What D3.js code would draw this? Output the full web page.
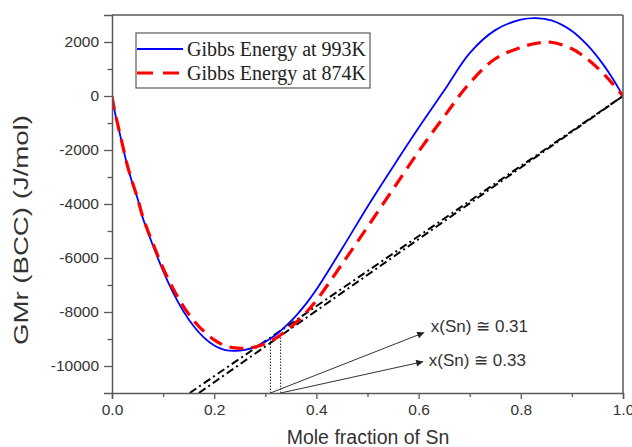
<!DOCTYPE html>
<html><head><meta charset="utf-8">
<script src="https://cdn.jsdelivr.net/npm/d3@7"></script>
<style>html,body{margin:0;padding:0;background:#fff;}svg{display:block;}</style>
</head><body>
<svg id="chart" width="632" height="447"></svg>
<script>
// ---- data ----
const xGrid = [0, 0.005, 0.01, 0.02, 0.03, 0.04, 0.05, 0.06, 0.07, 0.08, 0.10, 0.12, 0.14, 0.16, 0.18, 0.20, 0.22, 0.24, 0.26, 0.28, 0.30, 0.32, 0.34, 0.36, 0.38, 0.40, 0.45, 0.50, 0.55, 0.60, 0.65, 0.70, 0.75, 0.80, 0.83, 0.86, 0.90, 0.93, 0.96, 0.98, 1.0];
const gibbs993 = [0, -540, -960, -1780, -2580, -3230, -3800, -4500, -5030, -5530, -6480, -7300, -7980, -8530, -8950, -9240, -9400, -9440, -9405, -9290, -9105, -8850, -8520, -8140, -7690, -7170, -5660, -4100, -2620, -1180, 200, 1590, 2440, 2830, 2885, 2800, 2410, 1890, 1200, 640, 0];
const gibbs874 = [0, -540, -950, -1760, -2570, -3200, -3780, -4460, -4980, -5460, -6380, -7150, -7800, -8320, -8720, -9030, -9240, -9330, -9343, -9295, -9167, -8973, -8710, -8390, -8010, -7570, -6230, -4850, -3450, -2060, -760, 480, 1380, 1800, 1950, 1990, 1750, 1370, 860, 450, 0];
const tangent993 = [[0.152, -11000], [1.0, 0]];
const tangent874 = [[0.170, -11000], [1.0, 0]];
const tangentX = [0.31, 0.33];
const tangentLabels = ["x(Sn) \u2245 0.31", "x(Sn) \u2245 0.33"];
const arrowTips = [[0.611, -8760], [0.609, -9840]];
const labelPos = [[0.624, -8540], [0.620, -9800]];
const xTicks = [0, 0.2, 0.4, 0.6, 0.8, 1.0];
const xMinorTicks = [0.1, 0.3, 0.5, 0.7, 0.9];
const yTicks = [-10000, -8000, -6000, -4000, -2000, 0, 2000];
const yMinorTicks = [-9000, -7000, -5000, -3000, -1000, 1000];
const seriesNames = ["Gibbs Energy at 993K", "Gibbs Energy at 874K"];
const xTitle = "Mole fraction of Sn";
const yTitle = "GMr (BCC) (J/mol)";

// ---- layout ----
const L = 112, R = 623, T = 15, B = 393;
const svg = d3.select("#chart");
const x = d3.scaleLinear().domain([0, 1]).range([L, R]);
const y = d3.scaleLinear().domain([-11000, 3000]).range([B, T]);
const axisCol = "#5a5a5a", textCol = "#333";

svg.append("defs").append("clipPath").attr("id", "clip")
  .append("rect").attr("x", L).attr("y", T).attr("width", R - L).attr("height", B - T);
const marker = svg.select("defs").append("marker").attr("id", "arr")
  .attr("viewBox", "0 0 10 10").attr("refX", 10).attr("refY", 5)
  .attr("markerWidth", 10).attr("markerHeight", 7).attr("markerUnits", "userSpaceOnUse")
  .attr("orient", "auto");
marker.append("path").attr("d", "M0,0 L10,5 L0,10 Z").attr("fill", "#222");

const plot = svg.append("g").attr("clip-path", "url(#clip)");
const line = d3.line().x(d => x(d[0])).y(d => y(d[1]));

// tangent lines
[tangent993, tangent874].forEach(t => {
  plot.append("path").attr("d", line(t)).attr("fill", "none")
    .attr("stroke", "#000").attr("stroke-width", 2)
    .attr("stroke-dasharray", "8,3.5,2,3.5");
});

// dotted vertical lines from axis to tangent points
const tangentY = tangentX.map((tx, i) => {
  const t = i === 0 ? tangent993 : tangent874;
  const m = (t[1][1] - t[0][1]) / (t[1][0] - t[0][0]);
  return t[1][1] + m * (tx - t[1][0]);
});
tangentX.forEach((tx, i) => {
  plot.append("line").attr("x1", x(tx)).attr("x2", x(tx))
    .attr("y1", y(-11000)).attr("y2", y(tangentY[i]))
    .attr("stroke", "#222").attr("stroke-width", 1).attr("stroke-dasharray", "1.5,1.5");
});

// curves
const curveLine = d3.line().x(d => x(d[0])).y(d => y(d[1])).curve(d3.curveCatmullRom.alpha(0.5));
const d993 = xGrid.map((v, i) => [v, gibbs993[i]]);
const d874 = xGrid.map((v, i) => [v, gibbs874[i]]);
plot.append("path").attr("d", curveLine(d993)).attr("fill", "none")
  .attr("stroke", "#0000ff").attr("stroke-width", 1.8);
plot.append("path").attr("d", curveLine(d874)).attr("fill", "none")
  .attr("stroke", "#ff0000").attr("stroke-width", 3.2).attr("stroke-dasharray", "14,8");

// arrows
tangentX.forEach((tx, i) => {
  svg.append("line").attr("x1", x(tx)).attr("y1", y(-11000))
    .attr("x2", x(arrowTips[i][0])).attr("y2", y(arrowTips[i][1]))
    .attr("stroke", "#333").attr("stroke-width", 1).attr("marker-end", "url(#arr)");
  svg.append("text").attr("x", x(labelPos[i][0])).attr("y", y(labelPos[i][1]))
    .attr("dominant-baseline", "central")
    .attr("font-family", "Liberation Sans, Arial, sans-serif").attr("font-size", 17)
    .attr("fill", textCol).text(tangentLabels[i]);
});

// frame (top & right)
svg.append("line").attr("x1", L).attr("x2", R).attr("y1", T).attr("y2", T).attr("stroke", axisCol).attr("stroke-width", 1.5);
svg.append("line").attr("x1", R).attr("x2", R).attr("y1", T).attr("y2", B).attr("stroke", axisCol).attr("stroke-width", 1.5);

// axes
const font = "Liberation Sans, Arial, sans-serif";
const xAxis = svg.append("g").attr("transform", `translate(0,${B})`)
  .call(d3.axisBottom(x).tickValues(xTicks).tickFormat(d3.format(".1f")).tickSize(6).tickPadding(5));
const xMinor = svg.append("g").attr("transform", `translate(0,${B})`)
  .call(d3.axisBottom(x).tickValues(xMinorTicks).tickFormat("").tickSize(4));
const yAxis = svg.append("g").attr("transform", `translate(${L},0)`)
  .call(d3.axisLeft(y).tickValues(yTicks).tickFormat(d => String(d)).tickSize(8).tickPadding(5));
const yMinor = svg.append("g").attr("transform", `translate(${L},0)`)
  .call(d3.axisLeft(y).tickValues(yMinorTicks).tickFormat("").tickSize(4.5));
[xAxis, xMinor, yAxis, yMinor].forEach(g => {
  g.selectAll(".domain").attr("stroke", axisCol).attr("stroke-width", 1.5);
  g.selectAll(".tick line").attr("stroke", axisCol).attr("stroke-width", 1.3);
  g.selectAll("text").attr("font-family", font).attr("font-size", 15.5).attr("fill", textCol);
});
xMinor.select(".domain").remove(); yMinor.select(".domain").remove();

// titles
svg.append("text").attr("x", 368).attr("y", 444).attr("text-anchor", "middle")
  .attr("font-family", font).attr("font-size", 19.5).attr("fill", textCol).text(xTitle);
svg.append("text").attr("transform", `translate(28,${230}) rotate(-90)`).attr("text-anchor", "middle")
  .attr("font-family", font).attr("font-size", 20).attr("fill", textCol)
  .attr("textLength", 230).attr("lengthAdjust", "spacingAndGlyphs").text(yTitle);

// legend
const lg = svg.append("g");
lg.append("rect").attr("x", 136).attr("y", 33).attr("width", 234).attr("height", 55)
  .attr("fill", "#fff").attr("stroke", axisCol).attr("stroke-width", 1.2);
const legendStyles = [
  {stroke: "#0000ff", w: 1.8, dash: null},
  {stroke: "#ff0000", w: 3.2, dash: "16,10"}
];
seriesNames.forEach((name, i) => {
  const ly = 49 + i * 24;
  const l = lg.append("line").attr("x1", 137).attr("x2", 183).attr("y1", ly).attr("y2", ly)
    .attr("stroke", legendStyles[i].stroke).attr("stroke-width", legendStyles[i].w);
  if (legendStyles[i].dash) l.attr("stroke-dasharray", legendStyles[i].dash);
  lg.append("text").attr("x", 187).attr("y", ly + 7)
    .attr("font-family", "Liberation Serif, 'DejaVu Serif', serif").attr("font-size", 20)
    .attr("fill", "#222").text(name);
});
</script>
</body></html>
